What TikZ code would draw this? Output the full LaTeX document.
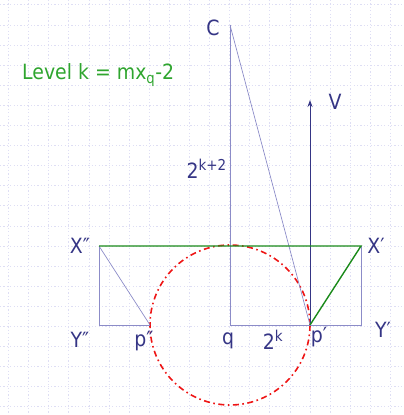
\documentclass[tikz,border=0pt]{standalone}
\usepackage{fontspec}
\setmainfont[FakeStretch=0.9]{DejaVu Sans}
\usetikzlibrary{arrows.meta}
\definecolor{navy}{HTML}{353585}
\definecolor{lineblue}{HTML}{8C8CC8}
\definecolor{gtext}{HTML}{2FA52F}
\definecolor{gline}{HTML}{1A8A1A}
\definecolor{gridc}{HTML}{DEDEF4}
\definecolor{redc}{HTML}{EE1515}
\tikzset{
  lbl/.style={text=navy,font=\fontsize{21}{21}\selectfont,inner sep=0pt},
  thin line/.style={draw=lineblue,line width=1pt},
  green line/.style={draw=gline,line width=1.4pt},
  circ/.style={draw=redc,line width=1.6pt,dash pattern=on 6pt off 3.5pt on 1.6pt off 3.5pt},
}
\begin{document}
\begin{tikzpicture}[x=1pt,y=-1pt]
\useasboundingbox (0,0) rectangle (404,415);
% grid
\foreach \i in {0,...,19} {
  \draw[gridc,line width=0.8pt,dash pattern=on 1.2pt off 2.2pt] (8.5+20.1*\i,0) -- (8.5+20.1*\i,415);
}
\foreach \j in {0,...,20} {
  \draw[gridc,line width=0.8pt,dash pattern=on 1.2pt off 2.2pt] (0,4.8+20.1*\j) -- (404,4.8+20.1*\j);
}
% points
\coordinate (C) at (230,25);
\coordinate (q) at (230,325);
\coordinate (pp) at (310,325);
\coordinate (ppp) at (150,325);
\coordinate (Xp) at (361,246);
\coordinate (Xpp) at (99,246);
\coordinate (Yp) at (361,325);
\coordinate (Ypp) at (99,325);
\coordinate (Vt) at (310,100);
% circle
\draw[circ] (q) circle[radius=80];
% blue lines
\draw[thin line] (C) -- (q) -- (Yp) -- (Xp);
\draw[thin line,line width=0.7pt] (C) -- (pp);
\draw[thin line] (Xpp) -- (Ypp) -- (ppp);
\draw[thin line,line width=0.7pt] (Xpp) -- (ppp);
\draw[navy,line width=1pt,-{Stealth[length=7pt,width=5pt]}] (pp) -- (Vt);
% green lines
\draw[green line] (Xpp) -- (Xp) -- (pp);
% labels
\node[lbl] (lC) at (213,28) {C};
\node[lbl] (lV) at (335,102) {V};
\node[lbl,anchor=base east] (l2k2) at (227,178) {2\textsuperscript{\fontsize{15}{15}\selectfont k+2}};
\node[lbl] (lXpp) at (80,246) {X″};
\node[lbl] (lXp) at (376,246) {X′};
\node[lbl] (lYpp) at (80,340) {Y″};
\node[lbl] (lppp) at (144,341) {p″};
\node[lbl] (lq) at (228,341) {q};
\node[lbl] (l2k) at (273,340) {2\textsuperscript{\fontsize{15}{15}\selectfont k}};
\node[lbl] (lpp) at (319,337) {p′};
\node[lbl] (lYp) at (383,330) {Y′};
\node[text=gtext,font=\fontsize{21}{21}\selectfont,inner sep=0pt,anchor=west] (lev) at (22,75) {Level k = mx\textsubscript{q}-2};
\end{tikzpicture}
\end{document}
